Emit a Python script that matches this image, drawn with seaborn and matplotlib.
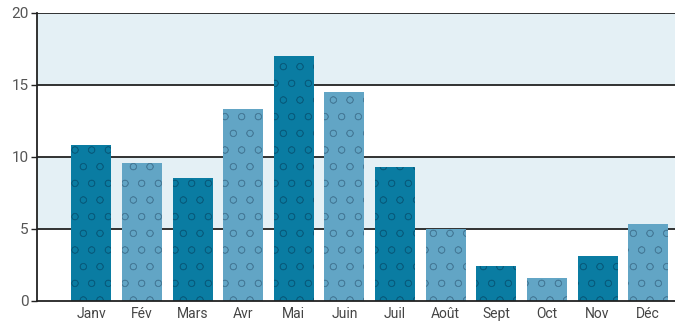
import numpy as np
import pandas as pd
import seaborn as sns
import matplotlib

matplotlib.use("Agg")
import matplotlib.pyplot as plt

# Data.
months = ["Janv", "Fév", "Mars", "Avr", "Mai", "Juin",
          "Juil", "Août", "Sept", "Oct", "Nov", "Déc"]
rain = [10.8, 9.6, 8.5, 13.3, 17.0, 14.5, 9.3, 5.0, 2.4, 1.6, 3.1, 5.3]
yticks = [0, 5, 10, 15, 20]

dark = "#0a7ca2"
light = "#62a5c5"
band = "#e4f0f5"

sns.set_style("white")
plt.rcParams["font.family"] = ["Roboto", "DejaVu Sans"]
plt.rcParams["hatch.linewidth"] = 0.5

df = pd.DataFrame({"month": months, "rain": rain})
df["tone"] = ["d" if i % 2 == 0 else "l" for i in range(len(months))]

fig = plt.figure(figsize=(6.75, 3.24), dpi=100)
ax = fig.add_axes([0.055, 0.072, 0.945, 0.888])

# Alternating background bands.
for lo, hi in [(5, 10), (15, 20)]:
    ax.axhspan(lo, hi, color=band, zorder=0, lw=0)
for y in yticks[1:]:
    ax.axhline(y, color="#222222", lw=1.3, zorder=1)

sns.barplot(data=df, x="month", y="rain", hue="tone",
            palette={"d": dark, "l": light}, width=0.79, dodge=False,
            legend=False, saturation=1, ax=ax, zorder=2)

# Water-drop look: faint darker dots on each bar.
for cont in ax.containers:
    for patch in cont:
        fc = patch.get_facecolor()
        patch.set_hatch("o")
        patch.set_edgecolor((fc[0] * 0.55, fc[1] * 0.6, fc[2] * 0.65, 0.55))
        patch.set_linewidth(0)

ax.set_xlim(-1.07, 11.53)
ax.set_ylim(0, 20)
ax.set_yticks(yticks)
ax.set_xlabel("")
ax.set_ylabel("")

for s in ["top", "right"]:
    ax.spines[s].set_visible(False)
for s in ["left", "bottom"]:
    ax.spines[s].set_color("#222222")
    ax.spines[s].set_linewidth(1.3)

ax.tick_params(axis="y", left=True, length=4, width=1, color="#222222",
               labelsize=11, labelcolor="#555555", pad=2)
ax.tick_params(axis="x", bottom=False, labelsize=10, labelcolor="#444444", pad=1)

fig.savefig("out.png", dpi=100)
